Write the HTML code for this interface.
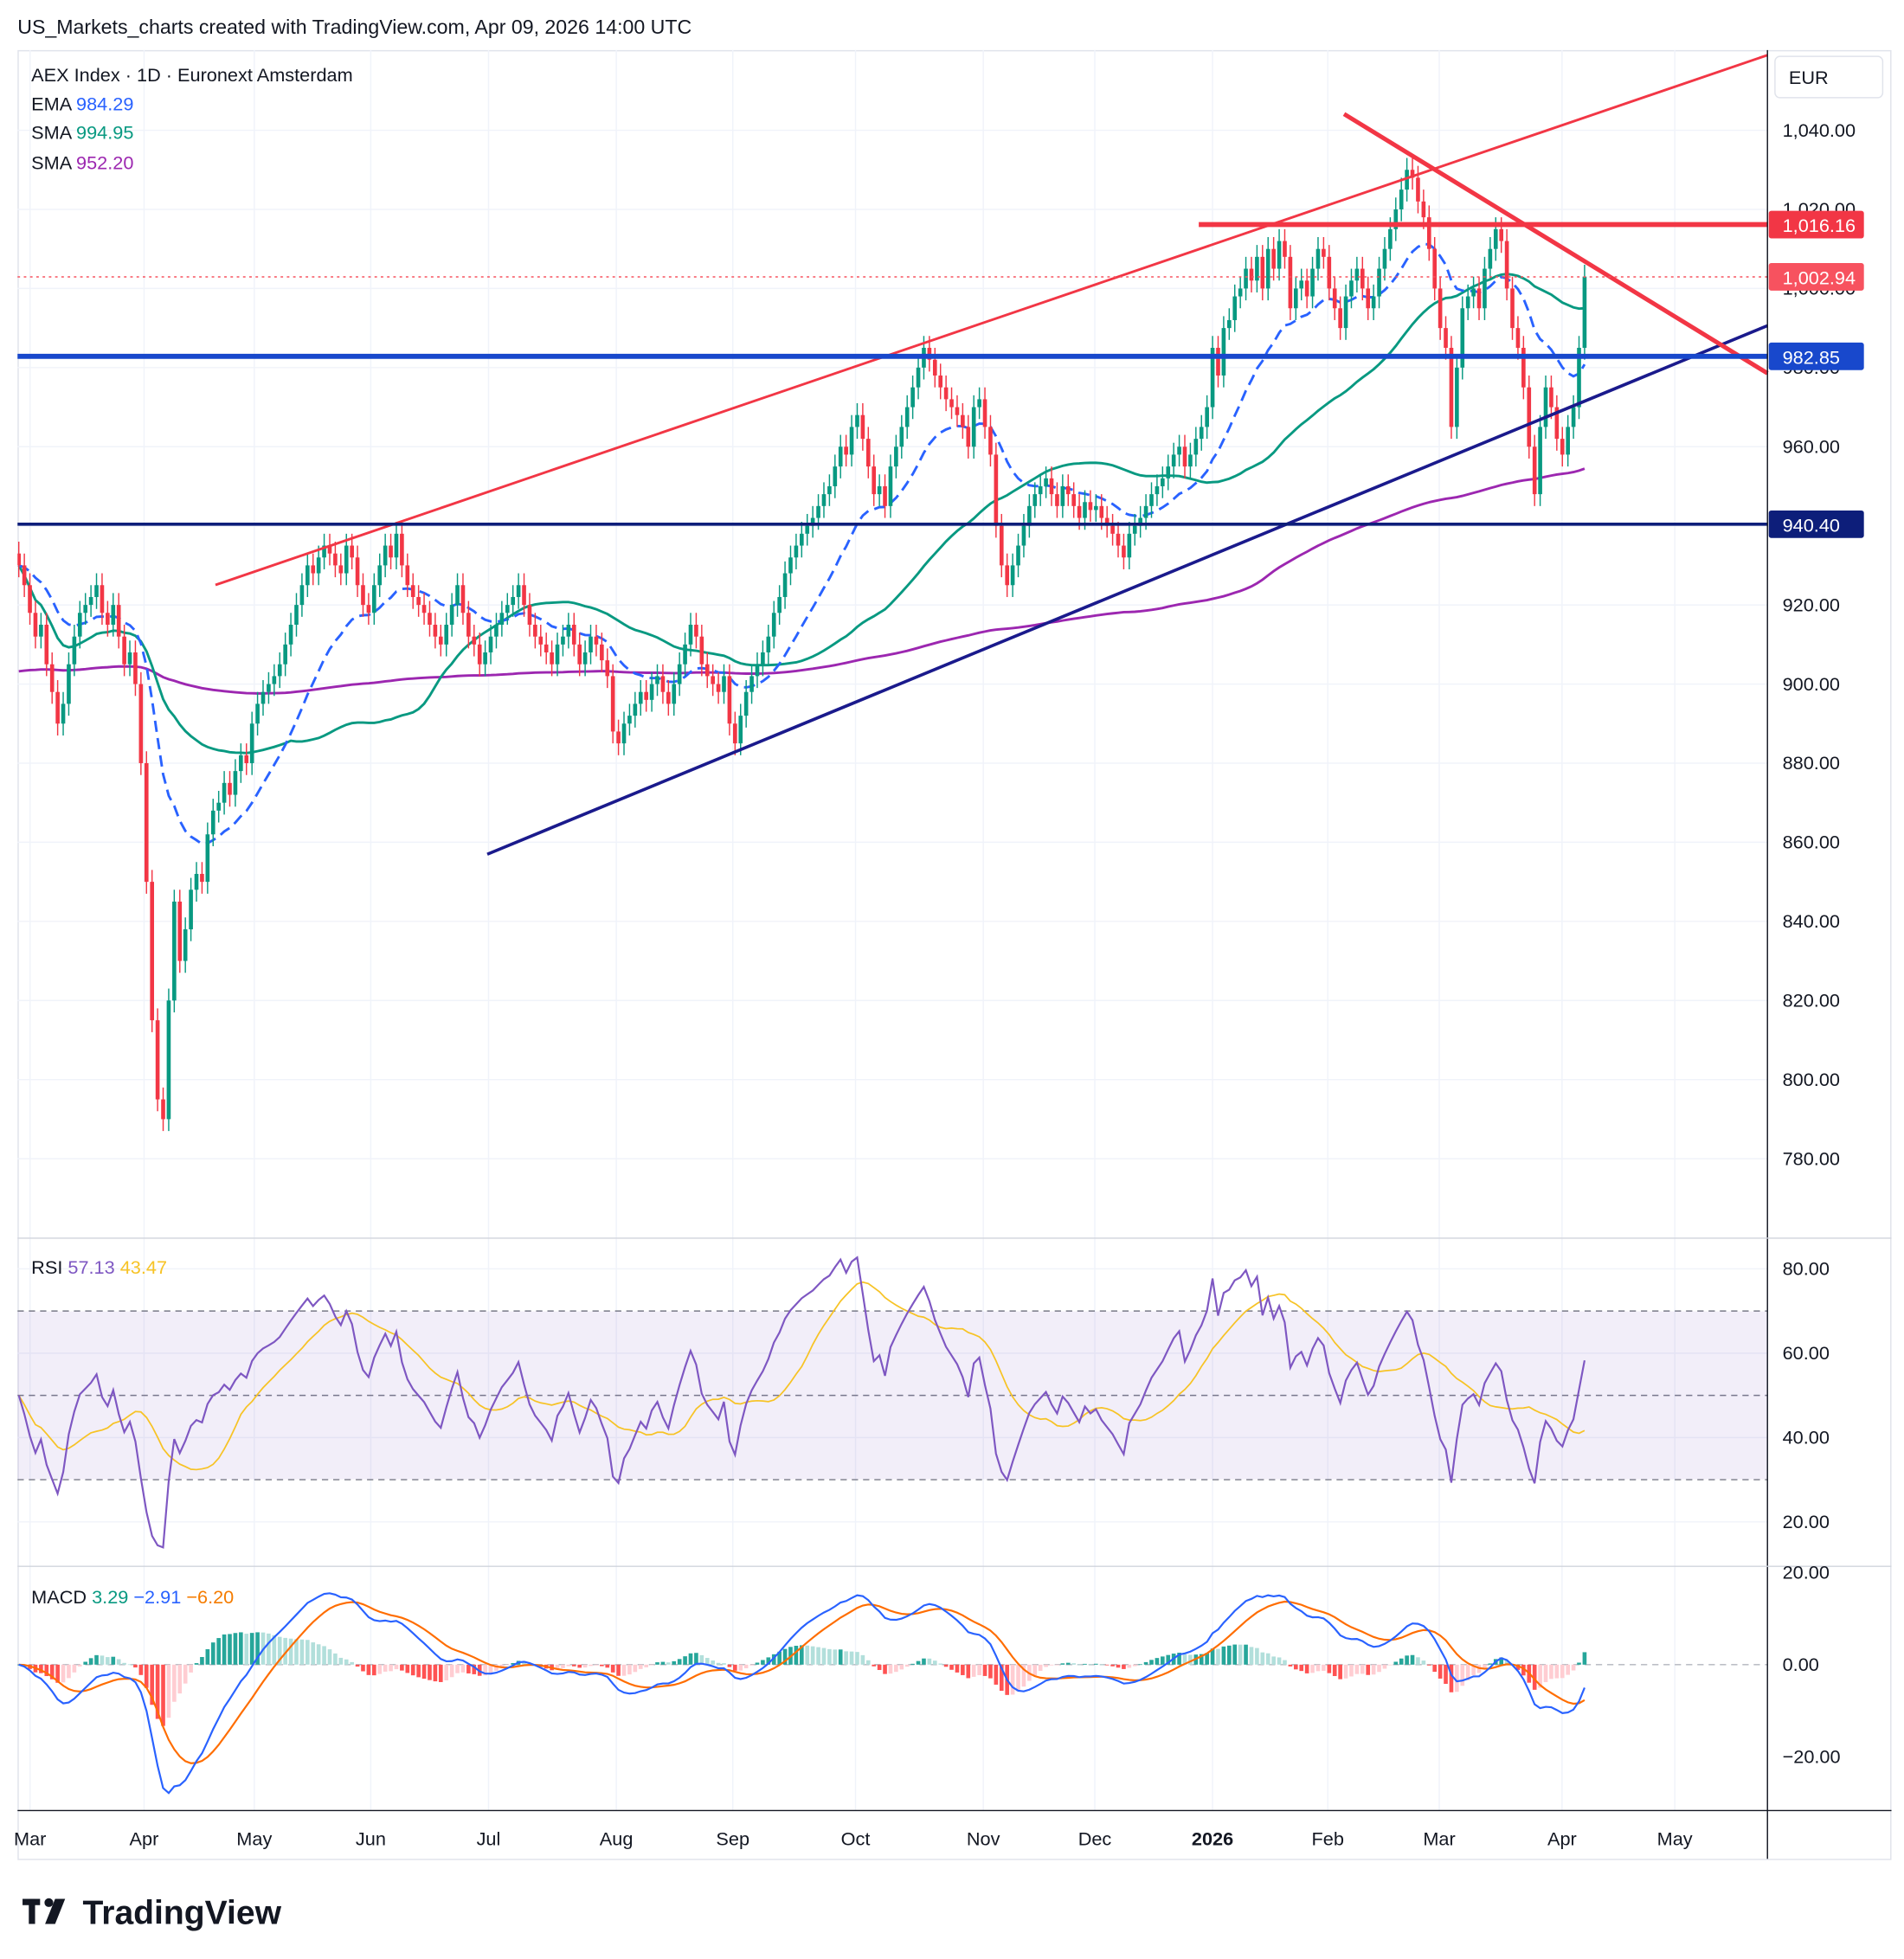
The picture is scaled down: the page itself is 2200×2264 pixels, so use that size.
<!DOCTYPE html>
<html><head><meta charset="utf-8">
<style>
html,body{margin:0;padding:0;background:#fff;}
svg{display:block;font-family:"Liberation Sans",sans-serif;}
</style></head>
<body>
<svg id="chart" width="2200" height="2264" viewBox="0 0 1520 1564" preserveAspectRatio="none" xmlns="http://www.w3.org/2000/svg">
<defs>
<clipPath id="pane"><rect x="14" y="40" width="1397" height="1405"/></clipPath>
</defs>
<rect x="0" y="0" width="1520" height="1564" fill="#fff"/>
<text x="14" y="27" font-size="16" fill="#131722">US_Markets_charts created with TradingView.com, Apr 09, 2026 14:00 UTC</text>
<rect x="14.5" y="40.5" width="1495" height="1444" fill="none" stroke="#e0e3eb"/>
<g id="grid"></g>
<rect x="14" y="1047" width="1397" height="134" fill="#7e57c2" fill-opacity="0.1"/>
<g id="marks" clip-path="url(#pane)"></g>
<g id="overlay"></g>
<line x1="1411" y1="40" x2="1411" y2="1484" stroke="#131722" stroke-width="1"/>
<line x1="14" y1="988.5" x2="1510" y2="988.5" stroke="#d1d4dc"/>
<line x1="14" y1="1250.5" x2="1510" y2="1250.5" stroke="#d1d4dc"/>
<line x1="14" y1="1445.5" x2="1510" y2="1445.5" stroke="#131722"/>
<g id="axes"></g>
<g font-size="15">
<text x="25" y="65" fill="#131722">AEX Index · 1D · Euronext Amsterdam</text>
<text x="25" y="88" fill="#131722">EMA <tspan fill="#2962ff">984.29</tspan></text>
<text x="25" y="111" fill="#131722">SMA <tspan fill="#089981">994.95</tspan></text>
<text x="25" y="135" fill="#131722">SMA <tspan fill="#9c27b0">952.20</tspan></text>
<text x="25" y="1017" fill="#131722">RSI <tspan fill="#7e57c2">57.13</tspan> <tspan fill="#f7c325">43.47</tspan></text>
<text x="25" y="1280" fill="#131722">MACD <tspan fill="#089981">3.29</tspan> <tspan fill="#2962ff">−2.91</tspan> <tspan fill="#f57c00">−6.20</tspan></text>
</g>
<rect x="1417" y="45" width="86" height="33" rx="4" fill="#fff" stroke="#e0e3eb"/>
<text x="1428" y="67" font-size="15" fill="#131722">EUR</text>
<g>
<rect x="18" y="1516" width="14" height="5" fill="#131722"/>
<rect x="23" y="1516" width="5" height="20" fill="#131722"/>
<circle cx="39" cy="1519" r="3.5" fill="#131722"/>
<polygon points="44,1516 52,1516 44,1536 36,1536" fill="#131722"/>
<text x="66" y="1536" font-size="27" font-weight="bold" fill="#131722">TradingView</text>
</g>
</svg>
<script>
const closes=[930,925,918,912,915,905,898,890,895,905,912,918,920,922,925,918,915,920,912,905,908,
900,880,850,815,795,790,820,845,830,838,848,852,850,862,868,870,875,872,878,882,880,
890,895,898,900,902,905,910,915,920,925,930,928,932,935,933,930,928,935,932,925,920,
918,925,930,935,932,938,930,925,922,920,918,915,912,910,915,920,925,918,912,910,905,
908,912,915,918,920,922,925,920,915,912,910,908,905,910,912,915,910,905,908,912,910,906,902,
888,885,890,892,895,898,896,900,902,898,895,900,905,910,915,912,905,902,900,898,902,
890,885,892,898,902,905,908,912,918,922,928,932,935,938,940,942,945,948,950,955,960,958,
965,968,962,955,948,950,945,955,960,965,970,975,980,985,982,978,975,972,970,968,965,960,970,
972,965,958,940,930,925,930,935,940,945,948,950,952,948,945,950,948,945,942,946,
944,945,942,940,938,935,932,938,940,942,945,948,950,952,955,958,960,955,958,962,965,
970,985,978,990,992,998,1000,1005,1002,1008,1000,1010,1005,1012,1008,995,1000,1002,998,1005,1010,
1008,1000,995,990,998,1002,1005,1000,995,998,1005,1010,1015,1020,1025,1030,1028,1022,1018,1010,
1000,990,985,965,980,995,998,1000,995,1005,1010,1015,1012,1000,990,985,975,960,948,965,975,970,
962,958,965,970,985,1003];
const priceTicks=[780,800,820,840,860,880,900,920,940,960,980,1000,1020,1040];
const rsiTicks=[20,40,60,80];
const macdTicks=[-20,0,20];
const monthLabels=["Mar","Apr","May","Jun","Jul","Aug","Sep","Oct","Nov","Dec","2026","Feb","Mar","Apr","May"];
const monthX=[24,115,203,296,390,492,585,683,785,874,968,1060,1149,1247,1337];
const levels=[{v:1016.16,c:"#f23645",t:"1,016.16",x0:957},{v:1002.94,c:"#f7525f",t:"1,002.94",x0:14,dot:true},{v:982.85,c:"#1848cc",t:"982.85",x0:14},{v:940.40,c:"#0d1e7a",t:"940.40",x0:14}];

const NS="http://www.w3.org/2000/svg";
function mk(tag,attrs,parent){const e=document.createElementNS(NS,tag);for(const k in attrs)e.setAttribute(k,attrs[k]);parent.appendChild(e);return e;}
const py=p=>104+(1040-p)*3.158;
const ry=r=>1013+(80-r)*3.367;
const my=m=>1329-m*3.68;
const x0=15,x1=1265,step=(x1-x0)/(closes.length-1);
const xi=i=>x0+i*step;
const grid=document.getElementById('grid'),marks=document.getElementById('marks'),axes=document.getElementById('axes'),ov=document.getElementById('overlay');

priceTicks.forEach(p=>{mk('line',{x1:14,x2:1411,y1:py(p),y2:py(p),stroke:'#f0f3fa'},grid);
 const t=mk('text',{x:1423,y:py(p)+5,'font-size':15,fill:'#131722'},axes);t.textContent=p.toLocaleString('en-US',{minimumFractionDigits:2});
 });
rsiTicks.forEach(r=>{mk('line',{x1:14,x2:1411,y1:ry(r),y2:ry(r),stroke:'#f0f3fa'},grid);
 const t=mk('text',{x:1423,y:ry(r)+5,'font-size':15,fill:'#131722'},axes);t.textContent=r.toFixed(2);});
macdTicks.forEach(m=>{const t=mk('text',{x:1423,y:my(m)+5,'font-size':15,fill:'#131722'},axes);t.textContent=(m<0?'−':'')+Math.abs(m).toFixed(2);});
monthLabels.forEach((l,i)=>{mk('line',{x1:monthX[i],x2:monthX[i],y1:40,y2:1445,stroke:'#f0f3fa'},grid);
 const t=mk('text',{x:monthX[i],y:1473,'font-size':15,fill:'#131722','text-anchor':'middle','font-weight':l==='2026'?'bold':'normal'},axes);t.textContent=l;
 });
[70,50,30].forEach(r=>mk('line',{x1:14,x2:1411,y1:ry(r),y2:ry(r),stroke:'#787b86','stroke-dasharray':'5,4'},grid));
mk('line',{x1:14,x2:1411,y1:my(0),y2:my(0),stroke:'#b2b5be','stroke-dasharray':'5,4'},grid);

function sma(a,n){return a.map((v,i)=>{const s=a.slice(Math.max(0,i-n+1),i+1);return s.reduce((x,y)=>x+y,0)/s.length;});}
function ema(a,n){const k=2/(n+1);let e=a[0];return a.map(v=>e=v*k+e*(1-k));}
function pathOf(arr,fy){return arr.map((v,i)=>(i?'L':'M')+xi(i).toFixed(1)+','+fy(v).toFixed(1)).join('');}
const seed200=new Array(120).fill(903);
const s200=sma(seed200.concat(closes),200).slice(120);
const s50=sma(closes,50), e20=ema(closes,20);
let p;
p=mk('path',{d:pathOf(s200,py),fill:'none',stroke:'#9c27b0','stroke-width':2},marks);
p=mk('path',{d:pathOf(s50,py),fill:'none',stroke:'#089981','stroke-width':2},marks);
p=mk('path',{d:pathOf(e20,py),fill:'none',stroke:'#2962ff','stroke-width':2,'stroke-dasharray':'9,5'},marks);

closes.forEach((c,i)=>{const o=i?closes[i-1]:c+3;const up=c>=o;const col=up?'#089981':'#f23645';
 const hi=Math.max(o,c)+3,lo=Math.min(o,c)-3,x=xi(i);
 const g=mk('g',{},marks);
 
 
 mk('line',{x1:x,x2:x,y1:py(hi),y2:py(lo),stroke:col,'stroke-width':1},g);
 mk('rect',{x:x-1.6,y:py(Math.max(o,c)),width:3.2,height:Math.max(1,Math.abs(py(o)-py(c))),fill:col},g);});

p=mk('line',{x1:172,y1:467,x2:1411,y2:44,stroke:'#f23645','stroke-width':2},ov);
p=mk('line',{x1:389,y1:682,x2:1411,y2:260,stroke:'#1a1a8c','stroke-width':2.5},ov);
p=mk('line',{x1:1073,y1:91,x2:1411,y2:298,stroke:'#f23645','stroke-width':3.5},ov);
levels.forEach(l=>{const y=py(l.v);
 const ln=mk('line',{x1:l.x0,x2:1411,y1:y,y2:y,stroke:l.c,'stroke-width':l.dot?1:(l.v>980?4:2.5),'stroke-dasharray':l.dot?'2,3':'none'},ov);
 
 const b=mk('rect',{x:1412,y:y-11,width:76,height:22,rx:2,fill:l.c},axes);
 
 const t=mk('text',{x:1423,y:y+6,'font-size':15,fill:'#fff'},axes);t.textContent=l.t;});

// RSI (Wilder, seeded)
const rsi=[];let ag=2,al=2;
closes.forEach((c,i)=>{if(i){const d=c-closes[i-1];ag=(ag*13+Math.max(d,0))/14;al=(al*13+Math.max(-d,0))/14;}
 rsi.push(100-100/(1+ag/al));});
const rsiMa=sma(rsi,14);
p=mk('path',{d:pathOf(rsiMa,ry),fill:'none',stroke:'#f7c325','stroke-width':1.2},marks);
p=mk('path',{d:pathOf(rsi,ry),fill:'none',stroke:'#7e57c2','stroke-width':1.5},marks);

const e12=ema(closes,12),e26=ema(closes,26);const macd=e12.map((v,i)=>v-e26[i]);const sig=ema(macd,9);
macd.forEach((m,i)=>{const h=m-sig[i];const prev=i?macd[i-1]-sig[i-1]:0;
 const col=h>=0?(h>=prev?'#26a69a':'#b2dfdb'):(h<=prev?'#ff5252':'#ffcdd2');
 const r=mk('rect',{x:xi(i)-1.6,y:Math.min(my(0),my(h)),width:3.2,height:Math.max(0.5,Math.abs(my(h)-my(0))),fill:col},marks);
 
 });
p=mk('path',{d:pathOf(sig,my),fill:'none',stroke:'#ff6d00','stroke-width':1.5},marks);
p=mk('path',{d:pathOf(macd,my),fill:'none',stroke:'#2962ff','stroke-width':1.5},marks);
</script>
</body></html>
